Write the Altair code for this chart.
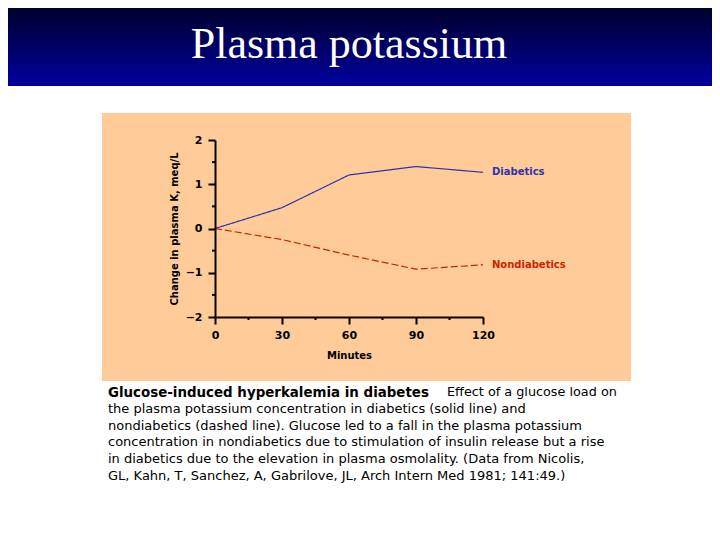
import altair as alt
import pandas as pd

# ---- data ----
minutes = [0, 30, 60, 90, 120]
diabetics = [0.0, 0.47, 1.21, 1.40, 1.27]
nondiabetics = [0.0, -0.25, -0.60, -0.92, -0.82]
series_names = ["Diabetics", "Nondiabetics"]
series_colors = ["#2f34ae", "#cc2200"]

x_ticks = [0, 30, 60, 90, 120]
x_minor = [15, 45, 75, 105]
y_ticks = [-2, -1, 0, 1, 2]
y_minor = [-1.5, -0.5, 0.5, 1.5]

slide_title = "Plasma potassium"
x_title = "Minutes"
y_title = "Change in plasma K, meq/L"
caption_bold = "Glucose-induced hyperkalemia in diabetes"
caption_first = "Effect of a glucose load on"
caption_lines = [
    "the plasma potassium concentration in diabetics (solid line) and",
    "nondiabetics (dashed line). Glucose led to a fall in the plasma potassium",
    "concentration in nondiabetics due to stimulation of insulin release but a rise",
    "in diabetics due to the elevation in plasma osmolality. (Data from Nicolis,",
    "GL, Kahn, T, Sanchez, A, Gabrilove, JL, Arch Intern Med 1981; 141:49.)",
]

# ---- layout (plot-area pixels) ----
W, H = 268, 177
PAD_L, PAD_T = 207, 132
TOTAL_W, TOTAL_H = 704, 524
FONT = "DejaVu Sans"

df = pd.DataFrame(
    {
        "Minutes": minutes * 2,
        "value": diabetics + nondiabetics,
        "series": [series_names[0]] * len(minutes) + [series_names[1]] * len(minutes),
    }
)
one = pd.DataFrame({"k": [0]})

x_scale = alt.Scale(domain=[0, 120], nice=False, zero=False)
y_scale = alt.Scale(domain=[-2, 2], nice=False, zero=False)
color_scale = alt.Scale(domain=series_names, range=series_colors)

gradient = alt.LinearGradient(
    gradient="linear",
    stops=[
        alt.GradientStop(color="#00002e", offset=0),
        alt.GradientStop(color="#00009e", offset=1),
    ],
    x1=0, x2=0, y1=0, y2=1,
)

title_bar = alt.Chart(one).mark_rect(fill=gradient).encode(
    x=alt.value(-PAD_L), x2=alt.value(TOTAL_W - PAD_L),
    y=alt.value(-PAD_T), y2=alt.value(86 - 140),
)
title_text = alt.Chart(one).transform_calculate(t=f"'{slide_title}'").mark_text(
    font="Liberation Serif", fontSize=44, color="white", align="center", baseline="alphabetic"
).encode(x=alt.value(349 - 215), y=alt.value(58 - 140), text="t:N")

peach = alt.Chart(one).mark_rect(fill="#FFCC99").encode(
    x=alt.value(102 - 215), x2=alt.value(631 - 215),
    y=alt.value(113 - 140), y2=alt.value(381 - 140),
)

lines = alt.Chart(df).mark_line(strokeWidth=1.2).encode(
    x=alt.X(
        "Minutes:Q", scale=x_scale,
        axis=alt.Axis(
            values=x_ticks, title=x_title, titleX=W / 2, titleY=38,
            titleBaseline="middle", titleAlign="center", zindex=2, labelFlush=False,
        ),
    ),
    y=alt.Y(
        "value:Q", scale=y_scale,
        axis=alt.Axis(
            values=y_ticks, title=y_title, titleX=174 - 215, titleY=H / 2,
            titleAngle=-90, titleBaseline="middle", titleAlign="center", zindex=2,
            labelPadding=6, labelFlush=False,
        ),
    ),
    color=alt.Color("series:N", scale=color_scale, legend=None),
    strokeDash=alt.StrokeDash(
        "series:N", scale=alt.Scale(domain=series_names, range=[[1, 0], [7, 3]]), legend=None
    ),
)

labels = alt.Chart(df).transform_filter("datum.Minutes == 120").mark_text(
    align="left", baseline="middle", dx=9, font=FONT, fontSize=10, fontWeight="bold"
).encode(
    x=alt.X("Minutes:Q", scale=x_scale),
    y=alt.Y("value:Q", scale=y_scale),
    text="series:N",
    color=alt.Color("series:N", scale=color_scale, legend=None),
)

ym = pd.DataFrame({"v": y_minor})
y_minor_ticks = alt.Chart(ym).mark_rule(color="black", strokeWidth=2).encode(
    x=alt.value(0), x2=alt.value(-3), y=alt.Y("v:Q", scale=y_scale)
)
xm = pd.DataFrame({"v": x_minor})
x_minor_ticks = alt.Chart(xm).mark_rule(color="black", strokeWidth=2).encode(
    y=alt.value(H), y2=alt.value(H + 3), x=alt.X("v:Q", scale=x_scale)
)

cap_top = 386 - 140
LH = 16.8
cap_bold = alt.Chart(one).transform_calculate(t=f"'{caption_bold}'").mark_text(
    font=FONT, fontSize=13.4, fontWeight="bold", color="black", align="left", baseline="top"
).encode(x=alt.value(108 - 215), y=alt.value(cap_top), text="t:N")
cap_first = alt.Chart(one).transform_calculate(t=f"'{caption_first}'").mark_text(
    font=FONT, fontSize=12.8, color="black", align="left", baseline="top"
).encode(x=alt.value(447 - 215), y=alt.value(cap_top), text="t:N")
cap_rest = alt.Chart(pd.DataFrame({"lines": [caption_lines]})).mark_text(
    font=FONT, fontSize=13.0, color="black", align="left", baseline="top", lineHeight=LH
).encode(x=alt.value(108 - 215), y=alt.value(cap_top + LH), text="lines")

chart = (
    alt.layer(
        title_bar, title_text, peach, y_minor_ticks, x_minor_ticks, lines, labels,
        cap_bold, cap_first, cap_rest,
    )
    .properties(
        width=W, height=H,
        autosize=alt.AutoSizeParams(type="none"),
        padding={"left": PAD_L, "top": PAD_T, "right": TOTAL_W - PAD_L - W, "bottom": TOTAL_H - PAD_T - H},
        background="white",
    )
    .configure_view(stroke=None)
    .configure_axis(
        domainColor="black", domainWidth=2, tickColor="black", tickWidth=2, tickSize=7,
        labelFont=FONT, labelFontSize=11, labelFontWeight="bold", labelColor="black",
        labelPadding=5, titleFont=FONT, titleFontSize=10, titleFontWeight="bold",
        titleColor="black", grid=False,
    )
)

chart.save("out.html", embed_options={"renderer": "svg", "actions": False})
